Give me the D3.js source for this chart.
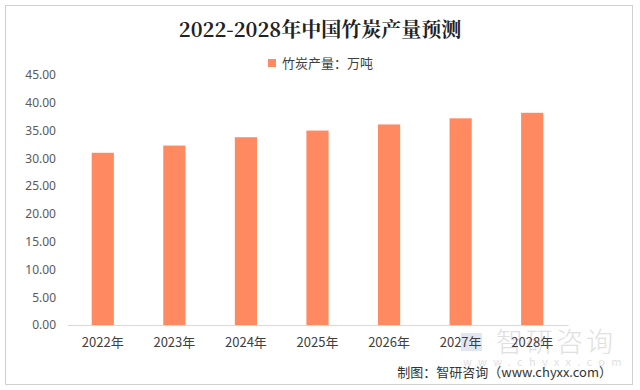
<!DOCTYPE html>
<html>
<head>
<meta charset="utf-8">
<script src="https://cdn.jsdelivr.net/npm/d3@7"></script>
<style>
  body { margin: 0; background: #fff; }
  text { font-family: "Noto Sans CJK SC", "Noto Sans", sans-serif; }
</style>
</head>
<body>
<svg id="chart" width="640" height="390"></svg>
<script>
var years = ["2022年", "2023年", "2024年", "2025年", "2026年", "2027年", "2028年"];
var output = [31.0, 32.3, 33.8, 35.0, 36.1, 37.2, 38.2];
var yTicks = [0, 5, 10, 15, 20, 25, 30, 35, 40, 45];

var svg = d3.select("#chart");
svg.append('rect').attr('x', 5.5).attr('y', 5.5).attr('width', 627).attr('height', 379)
  .attr('fill', '#fff').attr('stroke', '#d0d0d0');

var xScale = d3.scaleBand().domain(years).range([67, 568]).paddingInner(0.69).paddingOuter(0.345);
var yScale = d3.scaleLinear().domain([0, 45]).range([325, 75]);

// title + legend
svg.append('text').attr('x', 320).attr('y', 37).attr('text-anchor', 'middle')
  .style('font-family', '"Noto Serif CJK SC", "DejaVu Serif", serif').style('font-size', '20px').style('font-weight', 'bold')
  .attr('fill', '#222').text("2022-2028年中国竹炭产量预测");
svg.append('rect').attr('x', 268).attr('y', 59).attr('width', 8).attr('height', 8).attr('fill', '#FF8A62');
svg.append('text').attr('x', 282).attr('y', 68).style('font-size', '13px').attr('fill', '#404040').text("竹炭产量：万吨");

// y axis (labels only)
var yAxis = svg.append('g').attr('transform', 'translate(56, 0)')
  .call(d3.axisLeft(yScale).tickValues(yTicks).tickSize(0).tickPadding(0).tickFormat(d3.format('.2f')));
yAxis.select('.domain').remove();
yAxis.selectAll('text').style('font-size', '12px').attr('fill', '#595959')
  .style('font-family', '"Noto Sans", "DejaVu Sans", sans-serif');

// bars
svg.append('g').selectAll('rect').data(output).enter().append('rect')
  .attr('x', function(d, i) { return xScale(years[i]); })
  .attr('y', function(d) { return yScale(d); })
  .attr('width', xScale.bandwidth())
  .attr('height', function(d) { return yScale(0) - yScale(d); })
  .attr('fill', '#FF8A62');

// watermark (faint, sits behind the axis labels like in the source image)
svg.append('rect').attr('x', 461).attr('y', 333).attr('width', 21).attr('height', 18).attr('fill', '#cdd6e6').attr('opacity', 0.6);
svg.append('text').attr('x', 496).attr('y', 352).style('font-size', '27px').style('font-weight', '300').style('letter-spacing', '3px')
  .attr('fill', '#d4d4d4').attr('opacity', 0.7).text("智研咨询");
svg.append('text').attr('x', 463).attr('y', 366).style('font-size', '11px').style('letter-spacing', '6.3px')
  .attr('fill', '#d4d4d4').attr('opacity', 0.7).text("www.chyxx.com");

// x axis
var xAxis = svg.append('g').attr('transform', 'translate(0, 325)')
  .call(d3.axisBottom(xScale).tickSize(0).tickPadding(13));
xAxis.select('.domain').attr('stroke', '#d9d9d9');
xAxis.selectAll('text').style('font-size', '13px').attr('fill', '#404040');

// footer
svg.append('text').attr('x', 612).attr('y', 377).attr('text-anchor', 'end')
  .style('font-size', '13px').attr('fill', '#333').text("制图：智研咨询（www.chyxx.com）");
</script>
</body>
</html>
